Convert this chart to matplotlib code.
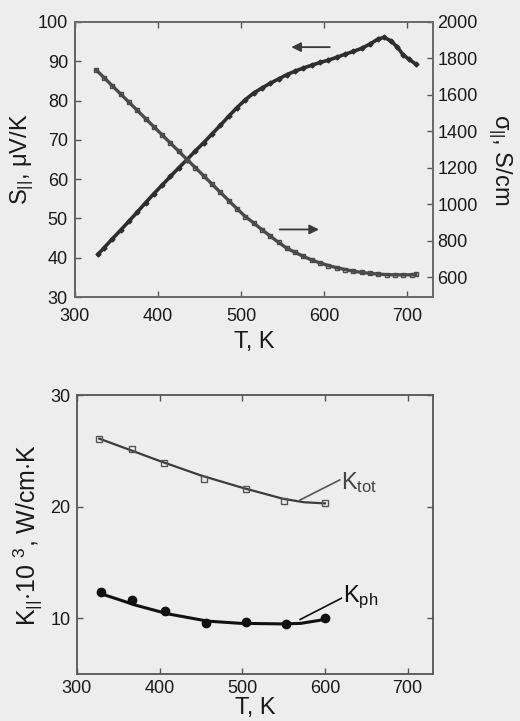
import matplotlib
matplotlib.use("Agg")
import matplotlib.pyplot as plt

plt.rcParams['font.family'] = ['Liberation Sans', 'DejaVu Sans']
plt.rcParams['mathtext.fontset'] = 'custom'
plt.rcParams['mathtext.rm'] = 'Liberation Sans'
plt.rcParams['mathtext.it'] = 'Liberation Sans'

# ---- top panel data ----
T_S = [328, 335, 345, 355, 365, 375, 385, 395, 405, 415, 425, 435, 445, 455, 465,
       475, 485, 495, 505, 515, 525, 535, 545, 555, 565, 575, 585, 595, 605, 615,
       625, 635, 645, 655, 665, 672, 680, 688, 695, 702, 710]
S_vals = [40.9, 42.5, 44.8, 47.0, 49.3, 51.6, 54.0, 56.3, 58.5, 60.7, 62.9, 65.0, 67.2, 69.3, 71.5,
          73.7, 76.0, 78.2, 80.2, 81.9, 83.2, 84.4, 85.5, 86.6, 87.5, 88.3, 89.0, 89.7, 90.3, 91.0,
          91.8, 92.5, 93.3, 94.4, 95.7, 96.1, 95.2, 93.6, 91.6, 90.5, 89.3]

T_sig = [326, 335, 345, 355, 365, 375, 385, 395, 405, 415, 425, 435, 445, 455, 465,
         475, 485, 495, 505, 515, 525, 535, 545, 555, 565, 575, 585, 595, 605, 615,
         625, 635, 645, 655, 665, 675, 685, 695, 705, 710]
sig_vals = [1735, 1695, 1650, 1605, 1560, 1515, 1470, 1425, 1380, 1335, 1290, 1245, 1200, 1155, 1110,
            1065, 1020, 975, 932, 897, 860, 825, 790, 758, 735, 713, 693, 677, 663, 651,
            641, 632, 625, 620, 616, 613, 612, 612, 612, 614]

top_xticks = [300, 400, 500, 600, 700]
top_left_ticks = [30, 40, 50, 60, 70, 80, 90, 100]
top_right_ticks = [600, 800, 1000, 1200, 1400, 1600, 1800, 2000]

# ---- bottom panel data ----
T_K = [327, 366, 405, 454, 505, 550, 600]
K_tot = [26.1, 25.2, 23.9, 22.5, 21.6, 20.5, 20.3]
T_Kph = [329, 366, 407, 456, 505, 553, 600]
K_ph = [12.4, 11.6, 10.7, 9.55, 9.7, 9.5, 10.0]

T_fit_tot = [327, 360, 400, 450, 500, 550, 575, 600]
K_fit_tot = [26.1, 25.2, 24.1, 22.8, 21.7, 20.7, 20.4, 20.3]
T_fit_ph = [329, 350, 370, 410, 458, 498, 550, 571, 600]
K_fit_ph = [12.2, 11.7, 11.2, 10.4, 9.75, 9.55, 9.5, 9.55, 9.9]

bottom_xticks = [300, 400, 500, 600, 700]
bottom_yticks = [10, 20, 30]

BG = '#ededed'
TXT = '#1a1a1a'

fig = plt.figure(figsize=(5.2, 7.21), dpi=100, facecolor=BG)

# ================= top panel =================
ax1 = fig.add_axes([0.144, 0.588, 0.689, 0.3815], facecolor=BG)
ax1.plot(T_S, S_vals, color='#2e2e2e', lw=2.6, marker='D', ms=2.5,
         mfc='#2e2e2e', mec='#2e2e2e', zorder=3)
ax1.set_xlim(300, 731)
ax1.set_ylim(30, 100)
ax1.set_xticks(top_xticks)
ax1.set_yticks(top_left_ticks)
ax1.set_xlabel('T, K', fontsize=17, color=TXT, labelpad=4)
ax1.set_ylabel(r'S$_{||}$, $\mu$V/K', fontsize=17, color=TXT, labelpad=1)

ax2 = ax1.twinx()
ax2.plot(T_sig, sig_vals, color='#4a4a4a', lw=2.4, marker='s', ms=2.5,
         mfc='none', mec='#4a4a4a', zorder=3)
ax2.set_ylim(490, 2000)
ax2.set_yticks(top_right_ticks)
ax2.set_ylabel(r'$\sigma_{||}$, S/cm', fontsize=17, color=TXT, rotation=270, labelpad=26)

for a in (ax1, ax2):
    for sp in a.spines.values():
        sp.set_color('#6a6a6a')
        sp.set_linewidth(1.3)
    a.tick_params(direction='in', length=4, width=1, colors='#555555',
                  labelsize=13, labelcolor=TXT, pad=3)
ax1.tick_params(axis='y', pad=5)
ax1.tick_params(axis='x', pad=8, top=True)
ax1.spines['left'].set_color('#222222')

# arrows
ax1.annotate('', xy=(557, 93.6), xytext=(610, 93.6),
             arrowprops=dict(arrowstyle='-|>', color='#3a3a3a', lw=1.3,
                             mutation_scale=14))
ax1.annotate('', xy=(597, 47.2), xytext=(543, 47.2),
             arrowprops=dict(arrowstyle='-|>', color='#3a3a3a', lw=1.3,
                             mutation_scale=14))

# ================= bottom panel =================
ax3 = fig.add_axes([0.148, 0.065, 0.685, 0.387], facecolor=BG)
ax3.plot(T_fit_tot, K_fit_tot, color='#3c3c3c', lw=1.6, zorder=2)
ax3.plot(T_K, K_tot, linestyle='none', marker='s', ms=5, mfc='none',
         mec='#555555', mew=1.0, zorder=3)
ax3.plot(T_fit_ph, K_fit_ph, color='#111111', lw=2.2, zorder=2)
ax3.plot(T_Kph, K_ph, linestyle='none', marker='o', ms=6, color='#111111', zorder=3)

ax3.set_xlim(300, 731)
ax3.set_ylim(5, 30)
ax3.set_xticks(bottom_xticks)
ax3.set_yticks(bottom_yticks)
ax3.set_xlabel('T, K', fontsize=17, color=TXT, labelpad=0)
ax3.set_ylabel(r'K$_{||}$$\cdot$10 $^3$, W/cm$\cdot$K', fontsize=18, color=TXT, labelpad=4)
for sp in ax3.spines.values():
    sp.set_color('#555555')
    sp.set_linewidth(1.3)
ax3.tick_params(direction='in', length=4, width=1, colors='#555555',
                labelsize=13, labelcolor=TXT, pad=4.5, top=True, right=True)

# labels with leader lines
ax3.plot([570, 618], [20.6, 22.4], color='#555555', lw=1.2)
ax3.text(620, 22.2, r'K$_{tot}$', fontsize=17, color='#444444', va='center', ha='left')
ax3.plot([570, 620], [9.9, 11.8], color='#111111', lw=1.2)
ax3.text(622, 11.9, r'K$_{ph}$', fontsize=17, color='#111111', va='center', ha='left')

fig.savefig('out.png', dpi=100, facecolor=BG)
